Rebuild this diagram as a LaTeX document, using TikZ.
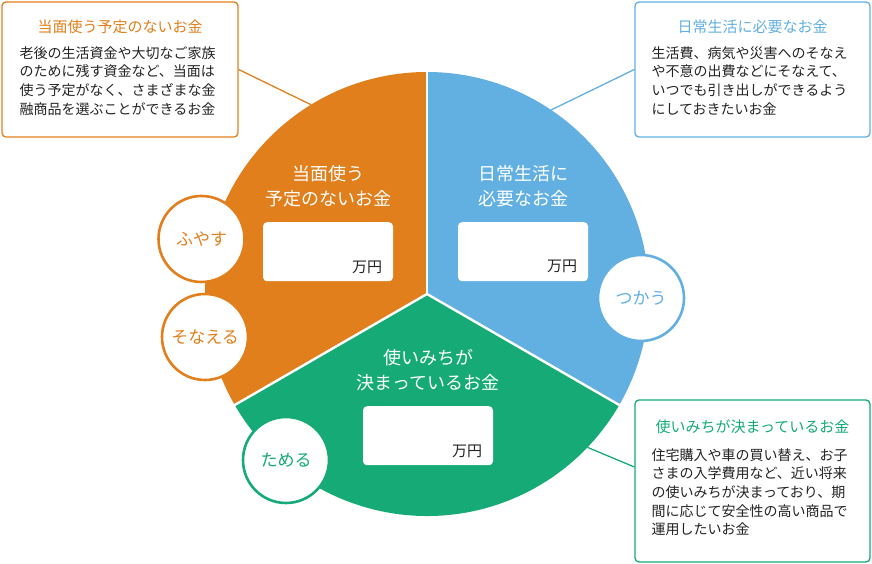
\documentclass[tikz,border=0pt]{standalone}
\usepackage{fontspec}
\setmainfont{Noto Sans CJK JP}
\usetikzlibrary{positioning, calc}
\definecolor{kOrange}{RGB}{225,127,29}
\definecolor{kBlue}{RGB}{98,176,226}
\definecolor{kGreen}{RGB}{21,170,118}
\definecolor{kText}{RGB}{35,35,35}

\begin{document}
\begin{tikzpicture}[x=1pt,y=1pt,
  callout/.style={draw=#1,rounded corners=4pt,line width=1.3pt,fill=white,inner sep=0pt},
  ctitle/.style={text=#1,font=\fontsize{15}{18}\selectfont,inner sep=0pt},
  cbody/.style={text=kText,font=\fontsize{14}{18.6}\selectfont,align=left,inner sep=0pt,anchor=north west},
  valbox/.style={fill=white,rounded corners=4pt,minimum width=130pt,minimum height=59pt,inner sep=0pt},
  ring/.style={circle,draw=#1,text=#1,fill=white,line width=2.6pt,minimum size=86pt,inner sep=0pt,font=\fontsize{17}{20}\selectfont},
  sector/.style={text=white,align=center,font=\fontsize{18}{25}\selectfont,inner sep=0pt}]
\useasboundingbox (0,0) rectangle (872,564);
\coordinate (C) at (427,270);
% anchor points on the rim
\coordinate (R1) at ($(C)+(121.5:222)$);
\coordinate (R2) at ($(C)+(56:222)$);
\coordinate (R3) at ($(C)+(-43.7:222)$);

% callout boxes
\node[callout=kOrange,minimum width=236pt,minimum height=135pt] (B1) at (120,494.5) {};
\node[callout=kBlue,minimum width=235pt,minimum height=135pt] (B2) at (752.5,494.5) {};
\node[callout=kGreen,minimum width=235pt,minimum height=162pt] (B3) at (752.5,83) {};
\node[ctitle=kOrange,below=18pt of B1.north] (T1) {当面使う予定のないお金};
\node[ctitle=kBlue,below=18pt of B2.north] (T2) {日常生活に必要なお金};
\node[ctitle=kGreen,below=20pt of B3.north] (T3) {使いみちが決まっているお金};
\node[cbody] (D1) at ([shift={(18,-45)}]B1.north west) {老後の生活資金や大切なご家族\\のために残す資金など、当面は\\使う予定がなく、さまざまな金\\融商品を選ぶことができるお金};
\node[cbody] (D2) at ([shift={(17,-45)}]B2.north west) {生活費、病気や災害へのそなえ\\や不意の出費などにそなえて、\\いつでも引き出しができるよう\\にしておきたいお金};
\node[cbody] (D3) at ([shift={(17,-49)}]B3.north west) {住宅購入や車の買い替え、お子\\さまの入学費用など、近い将来\\の使いみちが決まっており、期\\間に応じて安全性の高い商品で\\運用したいお金};

% leader lines
\draw[kOrange,line width=1.3pt] (B1.east) -- (R1);
\draw[kBlue,line width=1.3pt] (B2.west) -- (R2);
\draw[kGreen,line width=1.3pt] ([yshift=14pt]B3.west) -- (R3);

% pie
\fill[kOrange] (C) -- ++(90:222) arc[start angle=90,end angle=210,radius=222] -- cycle;
\fill[kGreen] (C) -- ++(210:222) arc[start angle=210,end angle=330,radius=222] -- cycle;
\fill[kBlue] (C) -- ++(330:222) arc[start angle=-30,end angle=90,radius=222] -- cycle;
\foreach \a in {90,210,330}
  \draw[white,line width=2.4pt] (C) -- ++(\a:224);

% sector labels and value boxes
\foreach \i/\x/\y/\t in {1/328/378/{当面使う\\予定のないお金},2/523/378/{日常生活に\\必要なお金},3/428/194/{使いみちが\\決まっているお金}} {
  \node[sector] (S\i) at (\x,\y) {\t};
  \node[valbox,below=15pt of S\i] (V\i) {};
  \node[anchor=south east,inner sep=0pt,text=kText,font=\fontsize{15}{18}\selectfont] (U\i) at ([shift={(-11,8)}]V\i.south east) {万円};
}

% action circles
\foreach \i/\x/\y/\c/\t in {1/201.5/325/kOrange/ふやす,2/205/227/kOrange/そなえる,3/286/104/kGreen/ためる,4/641/266/kBlue/つかう} {
  \node[ring=\c] (K\i) at (\x,\y) {\t};
}
\end{tikzpicture}
\end{document}
